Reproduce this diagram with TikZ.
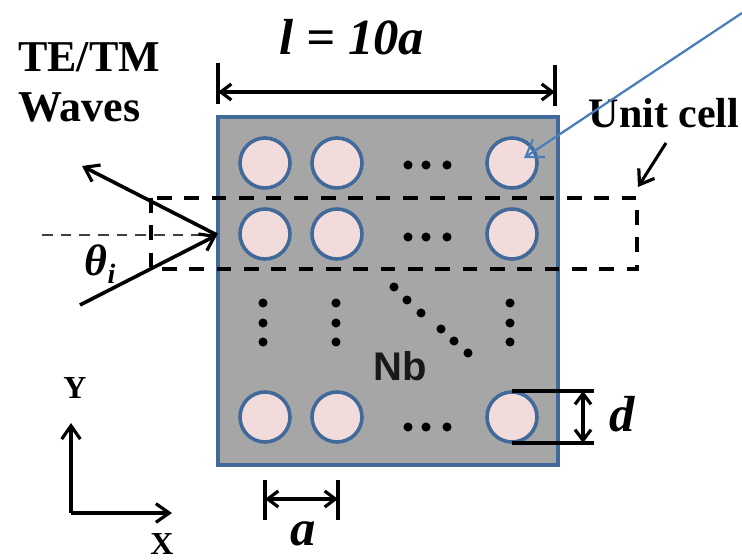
\documentclass[tikz,border=0pt]{standalone}
\usepackage{fontspec}
\setmainfont{Liberation Serif}
\setsansfont{Liberation Sans}
\usetikzlibrary{arrows.meta}
\definecolor{plate}{HTML}{A6A6A6}
\definecolor{edgeblue}{HTML}{41699A}
\definecolor{holefill}{HTML}{F2DCDB}
\definecolor{pointer}{HTML}{4A7EBB}
\tikzset{
  x=0.75pt,y=-0.75pt,
  hole/.style={circle,draw=edgeblue,fill=holefill,line width=2.7pt,minimum size=37.5pt,inner sep=0pt},
  barb/.style={-{Straight Barb[length=10pt,width=14pt,line width=2.4pt]},line width=2.7pt,black},
  dimtwo/.style={{Straight Barb[length=8pt,width=12pt,line width=2.4pt]}-{Straight Barb[length=8pt,width=12pt,line width=2.4pt]},line width=2.6pt,black},
  tick/.style={line width=2.8pt,black},
  cellbox/.style={dash pattern=on 11pt off 9.5pt,line width=2.7pt,black},
  dotmark/.style={circle,fill=black,inner sep=0pt,minimum size=6.8pt},
  serifbold/.style={font=\bfseries\fontsize{33}{38}\selectfont,inner sep=0pt},
  dimlabel/.style={font=\bfseries\itshape\fontsize{38}{44}\selectfont,inner sep=0pt},
}
\begin{document}
\begin{tikzpicture}
\useasboundingbox (0,0) rectangle (742,560);
% plate
\node[draw=edgeblue,fill=plate,line width=2.8pt,minimum width=255pt,minimum height=261pt,inner sep=0pt] (plate) at (388,291) {};
% holes
\foreach \n/\px in {a/265,b/337,c/512}{
  \foreach \m/\py in {1/163,2/234,3/417}{
    \node[hole] (h\n\m) at (\px,\py) {};
  }
}
% ellipsis dots
\foreach \dx/\dy [count=\i] in {408/165,426/165,447/165,408/237,426/237,447/237,408/427,426/427,447/427,
  263/303,263/323,263/342,336/303,336/323,336/342,510/303,510/323,510/342,
  394/287,407/300,421/313,441/329,454/341,468/353}{
  \node[dotmark] (dot\i) at (\dx,\dy) {};
}
\node[font=\sffamily\bfseries\fontsize{30}{36}\selectfont,text=black!90,inner sep=0pt] (nb) at (400,366) {Nb};
% unit cell box
\coordinate (c1) at (151,198);
\coordinate (c2) at (637,269);
\draw[cellbox] (c1) rectangle (c2);
% width dimension
\coordinate (wl) at (218,92);
\coordinate (wr) at (555,92);
\coordinate (wlt) at (218,63);
\coordinate (wlb) at (218,104);
\coordinate (wrt) at (555,65);
\coordinate (wrb) at (555,106);
\draw[tick] (wlt) -- (wlb);
\draw[tick] (wrt) -- (wrb);
\draw[dimtwo] (wl) -- (wr);
\node[dimlabel] (lbl) at (352,37) {l = 10a};
% waves
\coordinate (tip) at (217,235);
\coordinate (inc) at (80,305);
\coordinate (ref) at (82,166);
\coordinate (normal) at (42,235);
\draw[dash pattern=on 8pt off 6pt,line width=1.3pt,black!75] (normal) -- (tip);
\draw[barb] (inc) -- (tip);
\draw[barb] (tip) -- (ref);
\node[serifbold,align=left,anchor=north west] (waves) at (18,42) {TE/TM\\Waves};
\node[inner sep=0pt,font=\bfseries\itshape\fontsize{33}{40}\selectfont] (theta) at (100,264) {θ\raisebox{-6pt}{\fontsize{21}{24}\selectfont i}};
% unit cell label
\node[serifbold,font=\bfseries\fontsize{31.5}{38}\selectfont] (unit) at (664,113) {Unit cell};
\coordinate (ua) at (666,143);
\coordinate (ub) at (638,187);
\draw[barb,line width=2.3pt] (ua) -- (ub);
% blue pointer
\coordinate (pa) at (742,13);
\coordinate (pb) at (524,158);
\draw[-{Straight Barb[length=12pt,width=16pt,line width=1.6pt]},pointer,line width=1.7pt] (pa) -- (pb);
% axes
\coordinate (o) at (71,513);
\coordinate (ay) at (71,423);
\coordinate (ax) at (172,513);
\draw[barb] (o) -- (ay);
\draw[barb] (o) -- (ax);
\node[font=\bfseries\fontsize{24}{29}\selectfont,inner sep=0pt] (ylab) at (75,388) {Y};
\node[font=\bfseries\fontsize{24}{29}\selectfont,inner sep=0pt] (xlab) at (162,544) {X};
% a dimension
\coordinate (al) at (265,499);
\coordinate (ar) at (338,499);
\coordinate (alt) at (265,480);
\coordinate (alb) at (265,520);
\coordinate (art) at (338,480);
\coordinate (arb) at (338,520);
\draw[line width=3.2pt] (alt) -- (alb);
\draw[line width=3.2pt] (art) -- (arb);
\draw[dimtwo] (al) -- (ar);
\node[dimlabel] (alab) at (303,534) {a};
% d dimension
\coordinate (dt) at (512,391);
\coordinate (dtr) at (594,391);
\coordinate (db) at (512,443);
\coordinate (dbr) at (594,443);
\coordinate (dat) at (583,391);
\coordinate (dab) at (583,443);
\draw[line width=3pt] (dt) -- (dtr);
\draw[line width=2.3pt] (db) -- (dbr);
\draw[dimtwo] (dat) -- (dab);
\node[dimlabel] (dlab) at (622,414) {d};
\end{tikzpicture}
\end{document}
